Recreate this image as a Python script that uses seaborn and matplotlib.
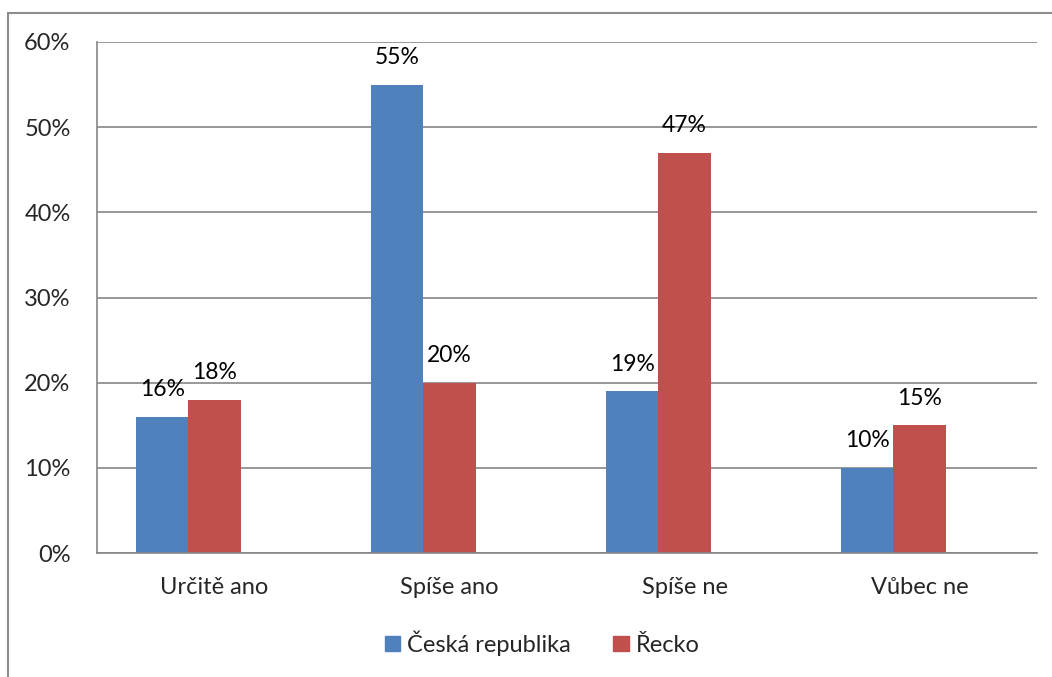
import pandas as pd
import matplotlib
matplotlib.use('Agg')
import matplotlib.pyplot as plt
import seaborn as sns
from matplotlib.patches import Rectangle, Patch
from matplotlib.ticker import PercentFormatter

# Data
categories = ['Určitě ano', 'Spíše ano', 'Spíše ne', 'Vůbec ne']
cz_values = [0.16, 0.55, 0.19, 0.10]
gr_values = [0.18, 0.20, 0.47, 0.15]
series_names = ['Česká republika', 'Řecko']
colors = ['#4F81BD', '#C0504D']

# Excel chart keeps an empty third series slot in each group
df = pd.DataFrame({
    'kategorie': categories * 3,
    'hodnota': cz_values + gr_values + [0] * len(categories),
    'serie': [series_names[0]] * 4 + [series_names[1]] * 4 + ['_empty'] * 4,
})

sns.set_style('white')
plt.rcParams['font.family'] = ['Lato', 'DejaVu Sans']

fig = plt.figure(figsize=(10.52, 6.77), dpi=100)
ax = fig.add_axes([97 / 1052, 1 - 553 / 677, 940 / 1052, 511 / 677])

sns.barplot(data=df, x='kategorie', y='hodnota', hue='serie',
            hue_order=series_names + ['_empty'],
            palette=colors + ['white'], width=0.664, linewidth=0,
            saturation=1, legend=False, ax=ax)

# value labels, centred ~27 px above each bar
for cont in ax.containers[:2]:
    for bar in cont:
        h = bar.get_height()
        ax.annotate(f'{h * 100:.0f}%', (bar.get_x() + bar.get_width() / 2, h),
                    xytext=(0, 19.5), textcoords='offset points',
                    ha='center', va='center', fontsize=16.5, color='black')

ax.set_ylim(0, 0.6)
ax.set_xlim(-0.5, 3.5)
ax.set_yticks([0, 0.1, 0.2, 0.3, 0.4, 0.5, 0.6])
ax.yaxis.set_major_formatter(PercentFormatter(1, decimals=0))
ax.yaxis.grid(True, color='#868686', linewidth=1.2)
ax.set_axisbelow(True)

ax.set_xticks([-0.5, 0.5, 1.5, 2.5, 3.5])
ax.set_xticklabels([])
ax.set_xticks(range(len(categories)), minor=True)
ax.set_xticklabels(categories, minor=True, fontsize=17)
ax.tick_params(axis='x', which='minor', length=0, pad=17)
ax.tick_params(axis='x', which='major', length=7, width=1.2, color='#868686', direction='out')
ax.tick_params(axis='y', length=7, width=1.2, color='#868686', direction='out', labelsize=17, pad=12)
ax.set_xlabel('')
ax.set_ylabel('')

for side in ['top', 'right']:
    ax.spines[side].set_visible(False)
for side in ['left', 'bottom']:
    ax.spines[side].set_color('#868686')
    ax.spines[side].set_linewidth(1.2)

handles = [Patch(color=c, label=n) for c, n in zip(colors, series_names)]
fig.legend(handles=handles, loc='center', bbox_to_anchor=(542 / 1052, 1 - 643 / 677),
           ncol=2, frameon=False, fontsize=17, handlelength=0.65, handleheight=0.65,
           handletextpad=0.3, columnspacing=1.8)

# outer chart border
fig.patches.append(Rectangle((8 / 1052, -0.1), 1.2, 0.1 + (1 - 13 / 677),
                             transform=fig.transFigure, fill=False,
                             edgecolor='#8c8c8c', linewidth=1.5))

plt.savefig('out.png', dpi=100)
plt.close()
